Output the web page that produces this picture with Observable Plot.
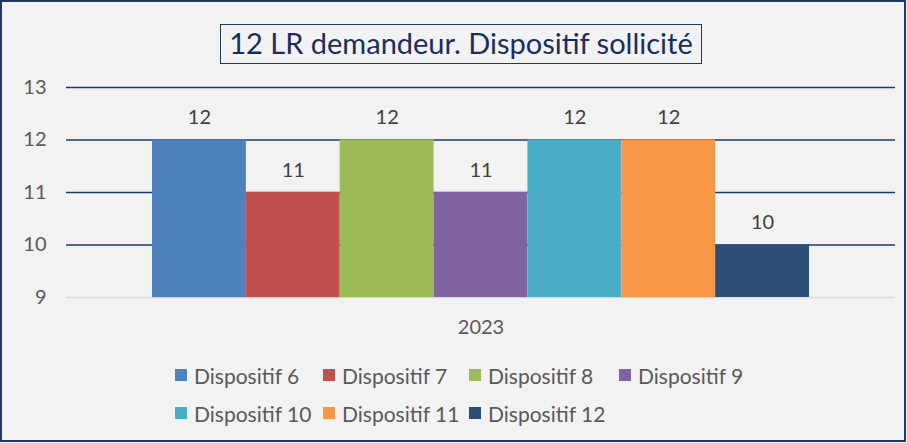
<!DOCTYPE html>
<html>
<head>
<meta charset="utf-8">
<script src="https://cdn.jsdelivr.net/npm/d3@7"></script>
<script src="https://cdn.jsdelivr.net/npm/@observablehq/plot@0.6"></script>
<style>
  html, body { margin: 0; padding: 0; background: #ffffff; }
  #wrap { position: relative; width: 907px; height: 443px; background: #f2f2f2; font-family: Lato, "Open Sans", sans-serif; overflow: hidden; }
  #frame { position: absolute; left: 0; top: 0; width: 906px; height: 442px; box-sizing: border-box; border: 2px solid #1f3864; pointer-events: none; }
  #title { position: absolute; left: 220px; top: 24px; width: 482px; height: 40px; box-sizing: border-box; border: 1.5px solid #1f3864; color: #1a2d5e; font-size: 29px; line-height: 36px; text-align: center; white-space: nowrap; }
  #chart { position: absolute; left: 0; top: 60px; }
  #legend { position: absolute; left: 175px; top: 362px; display: grid; grid-template-columns: 148px 146px 150px 150px; row-gap: 12px; }
  .item { display: flex; align-items: center; font-size: 21px; color: #595959; height: 26px; white-space: nowrap; }
  .sw { width: 12px; height: 12px; margin-right: 7px; flex: none; }
</style>
</head>
<body>
<div id="wrap">
  <div id="title">12 LR demandeur. Dispositif sollicité</div>
  <div id="chart"></div>
  <div id="legend"></div>
  <div id="frame"></div>
</div>
<script>
const years = ["2023"];
const series = ["Dispositif 6", "Dispositif 7", "Dispositif 8", "Dispositif 9", "Dispositif 10", "Dispositif 11", "Dispositif 12"];
const values = [12, 11, 12, 11, 12, 12, 10];
const colors = ["#4f81bd", "#c0504d", "#9bbb59", "#8064a2", "#4bacc6", "#f79646", "#2c4d75"];
const yTicks = [9, 10, 11, 12, 13];
const gridTicks = [10, 11, 12, 13];

const data = series.map((s, i) => ({year: years[0], series: s, value: values[i]}));

const chart = Plot.plot({
  width: 907,
  height: 280,
  marginLeft: 66,
  marginRight: 12,
  marginTop: 27,
  marginBottom: 43,
  style: {background: "transparent", fontFamily: "Lato, 'Open Sans', sans-serif", fontSize: "20px", color: "#595959", overflow: "visible"},
  fx: {domain: years, padding: 0, label: null, axis: "bottom", tickSize: 0, tickPadding: 22},
  x: {domain: series, paddingInner: 0, paddingOuter: 0.916, round: false, axis: null},
  y: {domain: [9, 13], ticks: yTicks, tickFormat: "d", tickSize: 0, tickPadding: 20, label: null},
  color: {domain: series, range: colors},
  marks: [
    Plot.ruleY(gridTicks, {stroke: "#1f3864", strokeWidth: 1.5}),
    Plot.ruleY([9], {stroke: "#d9d9d9", strokeWidth: 1.5}),
    Plot.barY(data, {fx: "year", x: "series", y1: 9, y2: "value", fill: "series"}),
    Plot.text(data, {fx: "year", x: "series", y: "value", text: d => String(d.value), dy: -22, fill: "#404040", fontSize: 20})
  ]
});
document.getElementById("chart").appendChild(chart);

const legend = document.getElementById("legend");
series.forEach((s, i) => {
  const it = document.createElement("div");
  it.className = "item";
  const sw = document.createElement("span");
  sw.className = "sw";
  sw.style.background = colors[i];
  it.appendChild(sw);
  it.appendChild(document.createTextNode(s));
  legend.appendChild(it);
});
</script>
</body>
</html>
